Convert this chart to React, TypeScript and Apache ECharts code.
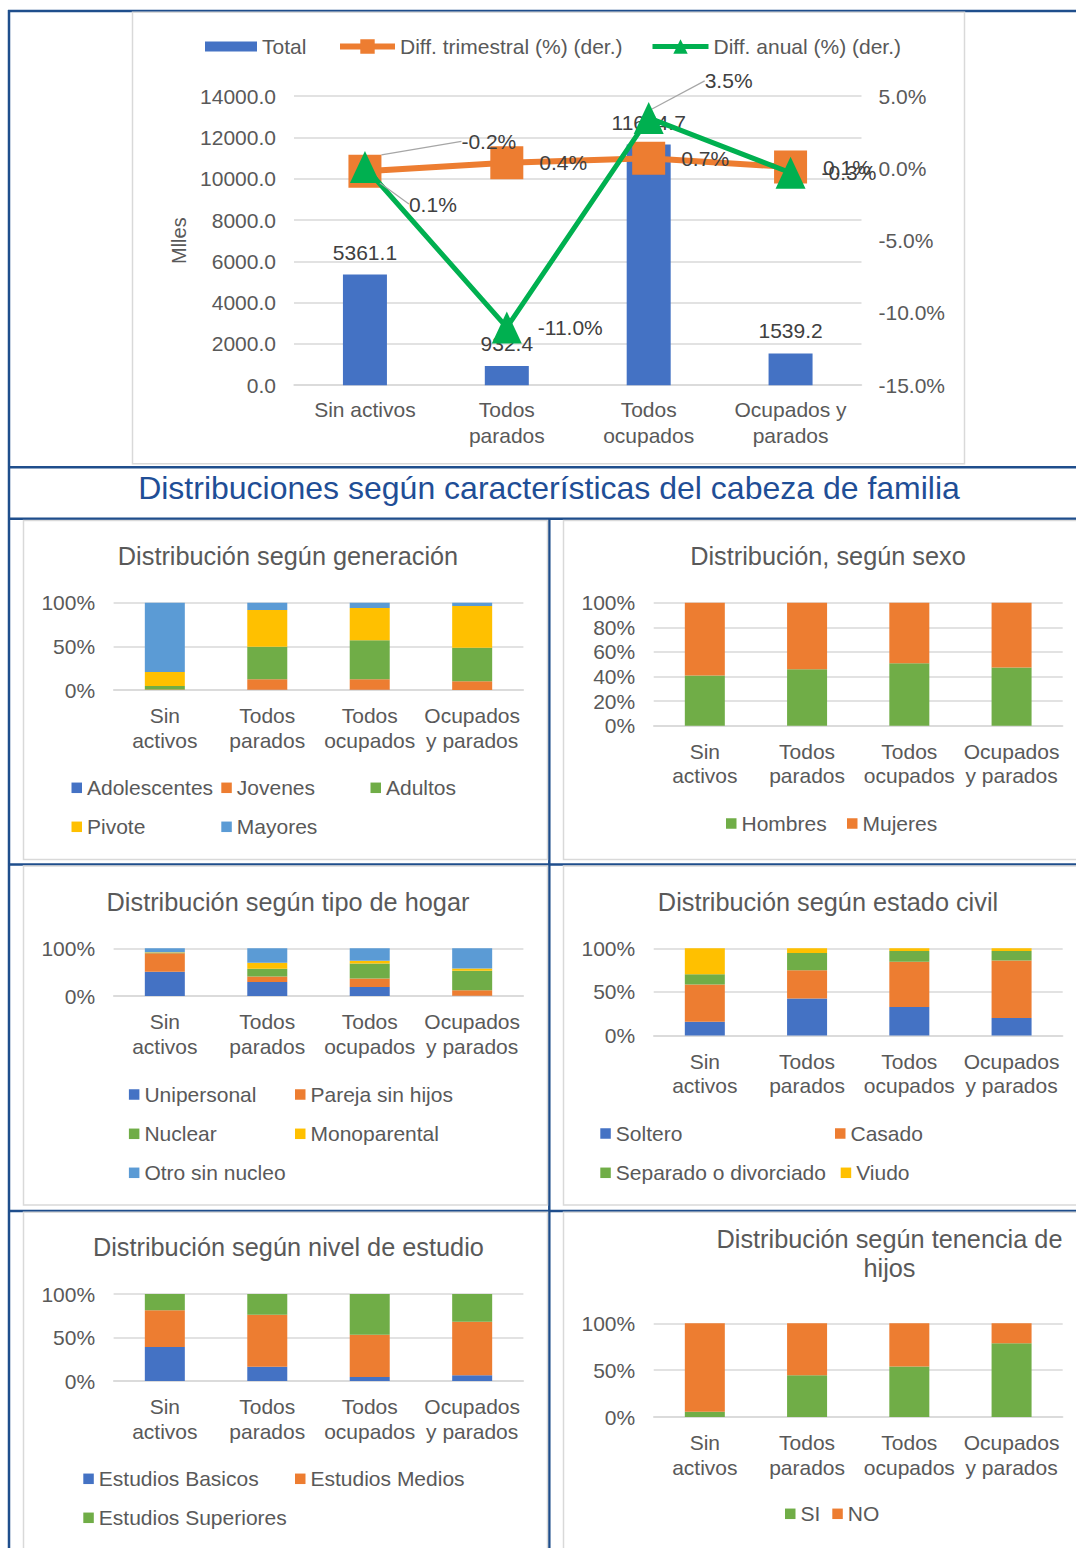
import React, { useEffect, useRef } from "react";
import * as echarts from "echarts";

// ---------- DATA ----------
const categoriesTop = ["Sin activos", "Todos\nparados", "Todos\nocupados", "Ocupados y\nparados"];
const categoriesSmall = ["Sin\nactivos", "Todos\nparados", "Todos\nocupados", "Ocupados\ny parados"];

const totalMiles = [5361.1, 932.4, 11654.7, 1539.2];
const diffTrimestral = [-0.2, 0.4, 0.7, 0.1];
const diffAnual = [0.1, -11.0, 3.5, -0.3];
const leftAxisTicks = { min: 0, max: 14000, interval: 2000 };
const rightAxisTicks = { min: -15, max: 5, interval: 5 };

// generación
const adolescentes = [0.1, 0.3, 0.2, 0.1];
const jovenes = [0.6, 11.9, 12.0, 9.8];
const adultos = [4.0, 37.4, 44.7, 38.6];
const pivote = [16.0, 42.0, 37.0, 47.7];
const mayores = [79.3, 8.4, 6.1, 3.8];
// sexo
const hombres = [40.9, 45.8, 50.7, 47.4];
const mujeres = [59.1, 54.2, 49.3, 52.6];
// tipo de hogar
const unipersonal = [50.7, 29.6, 19.0, 0.3];
const parejaSinHijos = [38.7, 11.2, 17.6, 11.7];
const nuclear = [1.2, 16.2, 31.7, 40.8];
const monoparental = [1.0, 12.7, 5.6, 4.9];
const otroSinNucleo = [8.4, 30.3, 26.1, 42.3];
// estado civil
const soltero = [16.0, 42.4, 32.8, 20.2];
const casado = [42.4, 32.4, 51.9, 65.7];
const separado = [11.8, 19.9, 12.2, 11.0];
const viudo = [29.8, 5.3, 3.1, 3.1];
// nivel de estudio
const basicos = [39.2, 16.5, 4.6, 6.5];
const medios = [42.0, 59.7, 48.5, 61.6];
const superiores = [18.8, 23.8, 46.9, 31.9];
// tenencia de hijos
const hijosSi = [5.7, 44.6, 53.9, 78.6];
const hijosNo = [94.3, 55.4, 46.1, 21.4];

// ---------- STYLES ----------
const FONT = "'Liberation Sans', Arial, sans-serif";
const TXT = "#595959";
const LBL = "#404040";
const GRID_LINE = "#D9D9D9";
const FRAME = "#1F4E8C";
const C = {
  blue: "#4472C4",
  orange: "#ED7D31",
  green: "#70AD47",
  yellow: "#FFC000",
  lightBlue: "#5B9BD5",
  brightGreen: "#00B050",
};

const orangeLabelShift: any[] = [{ dx: 64, dy: -30 }, null, null, null];
const greenLabelShift: any[] = [{ dx: 13, dy: 37 }, null, { dx: 25, dy: -37 }, null];

const panels = [
  {
    title: "Distribución según generación", tx: 288, ty: 556, tsize: 25.3,
    grid: { left: 113.6, top: 602.7, width: 409.8, height: 87.3 }, interval: 50,
    series: [
      { name: "Adolescentes", data: adolescentes, color: C.blue, lx: 71.5, ly: 788.3 },
      { name: "Jovenes", data: jovenes, color: C.orange, lx: 221.3, ly: 788.3 },
      { name: "Adultos", data: adultos, color: C.green, lx: 370.5, ly: 788.3 },
      { name: "Pivote", data: pivote, color: C.yellow, lx: 71.5, ly: 827.3 },
      { name: "Mayores", data: mayores, color: C.lightBlue, lx: 221.3, ly: 827.3 },
    ],
  },
  {
    title: "Distribución, según sexo", tx: 828, ty: 556, tsize: 25.3,
    grid: { left: 653.7, top: 602.7, width: 409, height: 123 }, interval: 20,
    series: [
      { name: "Hombres", data: hombres, color: C.green, lx: 726, ly: 824 },
      { name: "Mujeres", data: mujeres, color: C.orange, lx: 847, ly: 824 },
    ],
  },
  {
    title: "Distribución según tipo de hogar", tx: 288, ty: 901.7, tsize: 25.3,
    grid: { left: 113.6, top: 948.3, width: 409.8, height: 47.7 }, interval: 100,
    series: [
      { name: "Unipersonal", data: unipersonal, color: C.blue, lx: 128.9, ly: 1095 },
      { name: "Pareja sin hijos", data: parejaSinHijos, color: C.orange, lx: 295, ly: 1095 },
      { name: "Nuclear", data: nuclear, color: C.green, lx: 128.9, ly: 1134.3 },
      { name: "Monoparental", data: monoparental, color: C.yellow, lx: 295, ly: 1134.3 },
      { name: "Otro sin nucleo", data: otroSinNucleo, color: C.lightBlue, lx: 128.9, ly: 1173.3 },
    ],
  },
  {
    title: "Distribución según estado civil", tx: 828, ty: 901.7, tsize: 25.3,
    grid: { left: 653.7, top: 948.3, width: 409, height: 87.3 }, interval: 50,
    series: [
      { name: "Soltero", data: soltero, color: C.blue, lx: 600.3, ly: 1134 },
      { name: "Casado", data: casado, color: C.orange, lx: 835, ly: 1134 },
      { name: "Separado o divorciado", data: separado, color: C.green, lx: 600.3, ly: 1173.3 },
      { name: "Viudo", data: viudo, color: C.yellow, lx: 840.7, ly: 1173.3 },
    ],
  },
  {
    title: "Distribución según nivel de estudio", tx: 288.4, ty: 1246.7, tsize: 25.3,
    grid: { left: 113.6, top: 1294, width: 409.8, height: 87 }, interval: 50,
    series: [
      { name: "Estudios Basicos", data: basicos, color: C.blue, lx: 83.3, ly: 1479.3 },
      { name: "Estudios Medios", data: medios, color: C.orange, lx: 295, ly: 1479.3 },
      { name: "Estudios Superiores", data: superiores, color: C.green, lx: 83.3, ly: 1518.3 },
    ],
  },
  {
    title: "Distribución según tenencia de\nhijos", tx: 889.5, ty: 1253.7, tsize: 25.3,
    grid: { left: 653.7, top: 1323.3, width: 409, height: 93.7 }, interval: 50,
    series: [
      { name: "SI", data: hijosSi, color: C.green, lx: 785, ly: 1514.3 },
      { name: "NO", data: hijosNo, color: C.orange, lx: 832.3, ly: 1514.3 },
    ],
  },
];

function legendItem(name: string, left: number, centerY: number, w = 10.5, h = 10.5, icon: any = "rect", extra: any = {}) {
  const l: any = {
    data: [name],
    left,
    top: centerY - 11,
    padding: 0,
    itemGap: 0,
    itemWidth: w,
    itemHeight: h,
    selectedMode: false,
    textStyle: { fontSize: 21, color: TXT, fontFamily: FONT, padding: [0, 0, 0, 0] },
    ...extra,
  };
  if (icon) l.icon = icon;
  return l;
}

function buildOption() {
  const grids: any[] = [{ left: 294, top: 96.2, width: 567.5, height: 289 }];
  const xAxes: any[] = [
    {
      type: "category",
      gridIndex: 0,
      data: categoriesTop,
      axisTick: { show: false },
      axisLine: { lineStyle: { color: GRID_LINE, width: 1.5 } },
      axisLabel: { interval: 0, fontSize: 21, lineHeight: 25.5, color: TXT, fontFamily: FONT, margin: 12 },
    },
  ];
  const yAxes: any[] = [
    {
      type: "value",
      gridIndex: 0,
      ...leftAxisTicks,
      name: "Mlles",
      nameLocation: "middle",
      nameRotate: 90,
      nameGap: 105,
      nameTextStyle: { fontSize: 20, color: TXT, fontFamily: FONT },
      axisLabel: { formatter: (v: number) => v.toFixed(1), fontSize: 21, color: TXT, fontFamily: FONT, margin: 18 },
      splitLine: { lineStyle: { color: GRID_LINE, width: 1.5 } },
      axisLine: { show: false },
      axisTick: { show: false },
    },
    {
      type: "value",
      gridIndex: 0,
      position: "right",
      ...rightAxisTicks,
      axisLabel: { formatter: (v: number) => v.toFixed(1) + "%", fontSize: 21, color: TXT, fontFamily: FONT, margin: 17 },
      splitLine: { show: false },
      axisLine: { show: false },
      axisTick: { show: false },
    },
  ];

  const lineLabel = { show: true, position: "right", fontSize: 21, color: LBL, fontFamily: FONT, formatter: (p: any) => p.value.toFixed(1) + "%" };
  const series: any[] = [
    {
      name: "Total",
      type: "bar",
      xAxisIndex: 0,
      yAxisIndex: 0,
      barWidth: 44,
      data: totalMiles,
      itemStyle: { color: C.blue },
      label: { show: true, position: "top", distance: 12, fontSize: 21, color: LBL, fontFamily: FONT, formatter: (p: any) => p.value.toFixed(1) },
    },
    {
      name: "Diff. trimestral (%) (der.)",
      type: "line",
      xAxisIndex: 0,
      yAxisIndex: 1,
      data: diffTrimestral.map((v, i) => ({ value: v, labelLine: { show: !!orangeLabelShift[i] } })),
      symbol: "rect",
      symbolSize: 33,
      lineStyle: { color: C.orange, width: 6 },
      itemStyle: { color: C.orange },
      label: { ...lineLabel, distance: 16 },
      labelLine: { lineStyle: { color: "#A6A6A6", width: 1.2 } },
      labelLayout: (p: any) => orangeLabelShift[p.dataIndex] || {},
      z: 3,
    },
    {
      name: "Diff. anual (%) (der.)",
      type: "line",
      xAxisIndex: 0,
      yAxisIndex: 1,
      data: diffAnual.map((v, i) => ({ value: v, labelLine: { show: !!greenLabelShift[i] } })),
      symbol: "triangle",
      symbolSize: [30, 32],
      lineStyle: { color: C.brightGreen, width: 5 },
      itemStyle: { color: C.brightGreen },
      label: { ...lineLabel, distance: 16 },
      labelLine: { lineStyle: { color: "#A6A6A6", width: 1.2 } },
      labelLayout: (p: any) => greenLabelShift[p.dataIndex] || {},
      z: 4,
    },
  ];

  const legends: any[] = [
    legendItem("Total", 205, 47, 52, 10, "rect"),
    legendItem("Diff. trimestral (%) (der.)", 337, 47, 55, 18, null, { lineStyle: { width: 6 } }),
    legendItem("Diff. anual (%) (der.)", 650, 47, 56, 18, null, { lineStyle: { width: 5 } }),
  ];

  const graphics: any[] = [];
  // frame lines
  const fl = (x1: number, y1: number, x2: number, y2: number) =>
    graphics.push({ type: "line", z: -20, shape: { x1, y1, x2, y2 }, style: { stroke: FRAME, lineWidth: 2.5 } });
  fl(9, 10, 9, 1548);
  fl(8, 11, 1076, 11);
  fl(8, 467.3, 1076, 467.3);
  fl(8, 518.7, 1076, 518.7);
  fl(549.3, 518, 549.3, 1548);
  fl(8, 864.5, 1076, 864.5);
  fl(8, 1211, 1076, 1211);
  // boxes
  const box = (x: number, y: number, w: number, h: number) =>
    graphics.push({ type: "rect", z: -10, shape: { x, y, width: w, height: h }, style: { fill: "#fff", stroke: GRID_LINE, lineWidth: 1.5 } });
  box(132.5, 12.3, 832, 451.5);
  box(23.5, 520.5, 524, 339);
  box(563.5, 520.5, 530, 339);
  box(23.5, 866, 524, 339);
  box(563.5, 866, 530, 339);
  box(23.5, 1212.3, 524, 360);
  box(563.5, 1212.3, 530, 360);
  // section title
  graphics.push({
    type: "text",
    x: 549,
    y: 488,
    style: { text: "Distribuciones según características del cabeza de familia", fill: "#1F4E96", fontSize: 32, fontFamily: FONT, align: "center", verticalAlign: "middle" },
  });

  panels.forEach((p, k) => {
    const gi = k + 1;
    grids.push({ ...p.grid });
    xAxes.push({
      type: "category",
      gridIndex: gi,
      data: categoriesSmall,
      axisTick: { show: false },
      axisLine: { lineStyle: { color: GRID_LINE, width: 1.5 } },
      axisLabel: { interval: 0, fontSize: 21, lineHeight: 24.5, color: TXT, fontFamily: FONT, margin: 13.5 },
    });
    yAxes.push({
      type: "value",
      gridIndex: gi,
      min: 0,
      max: 100,
      interval: p.interval,
      axisLabel: { formatter: "{value}%", fontSize: 21, color: TXT, fontFamily: FONT, margin: 18.5 },
      splitLine: { lineStyle: { color: GRID_LINE, width: 1.5 } },
      axisLine: { show: false },
      axisTick: { show: false },
    });
    p.series.forEach((s) => {
      series.push({
        name: s.name,
        type: "bar",
        stack: "panel" + gi,
        xAxisIndex: gi,
        yAxisIndex: gi + 1,
        barWidth: 40,
        data: s.data,
        itemStyle: { color: s.color },
      });
      legends.push(legendItem(s.name, s.lx, s.ly));
    });
    graphics.push({
      type: "text",
      x: p.tx,
      y: p.ty,
      style: { text: p.title, fill: TXT, fontSize: p.tsize, lineHeight: 29, fontFamily: FONT, align: "center", verticalAlign: "middle" },
    });
  });

  return {
    animation: false,
    backgroundColor: "#fff",
    textStyle: { fontFamily: FONT },
    grid: grids,
    xAxis: xAxes,
    yAxis: yAxes,
    legend: legends,
    graphic: graphics,
    series,
  };
}

export default function App() {
  const ref = useRef<HTMLDivElement>(null);
  useEffect(() => {
    if (!ref.current) return;
    const chart = echarts.init(ref.current, undefined, { renderer: "svg" });
    chart.setOption(buildOption() as any);
    return () => chart.dispose();
  }, []);
  return (
    <div
      ref={ref}
      style={{ position: "absolute", left: 0, top: 0, width: 1076, height: 1548, background: "#fff" }}
    />
  );
}
